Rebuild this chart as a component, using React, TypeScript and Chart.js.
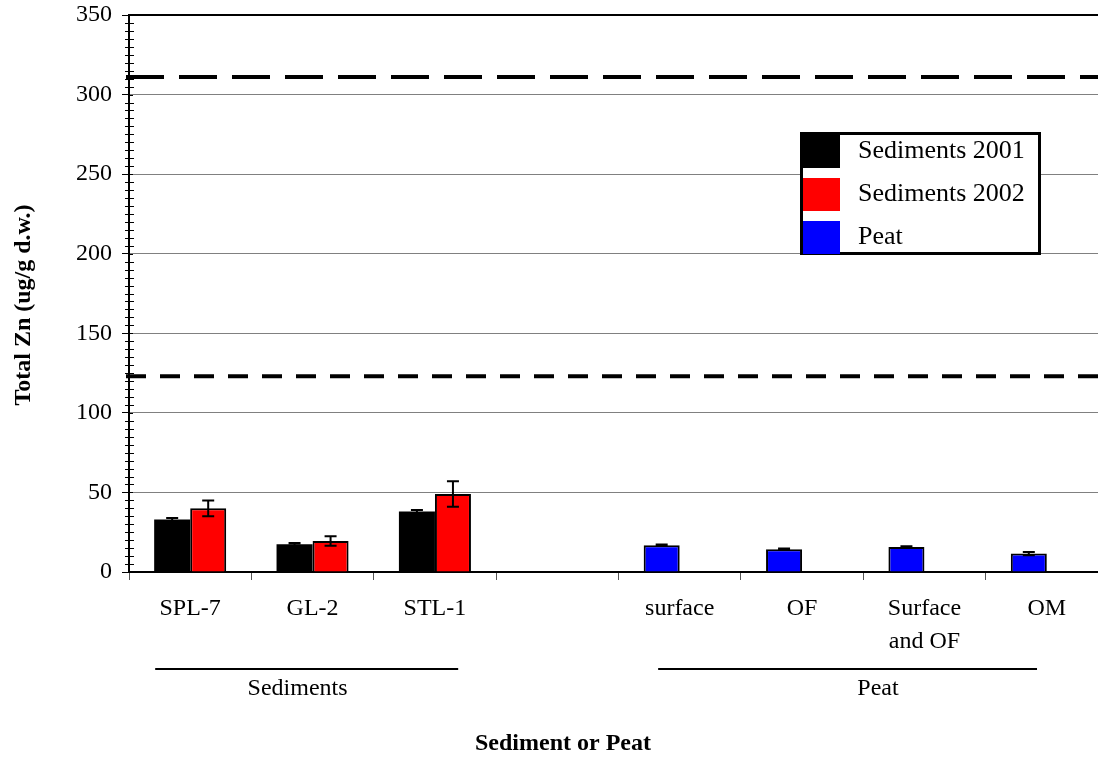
import React, { useEffect, useRef } from 'react';
import { Chart, registerables } from 'chart.js';

Chart.register(...registerables);

const categories: (string | string[])[] = ['SPL-7', 'GL-2', 'STL-1', '', 'surface', 'OF', ['Surface', 'and OF'], 'OM'];
const sediments2001: (number | null)[] = [33, 17.5, 38, null, null, null, null, null];
const sediments2001Err: (number | null)[] = [1, 0.8, 1, null, null, null, null, null];
const sediments2002: (number | null)[] = [40, 19.5, 49, null, null, null, null, null];
const sediments2002Err: (number | null)[] = [5, 3, 8, null, null, null, null, null];
const peat: (number | null)[] = [null, null, null, null, 16.8, 14.3, 15.7, 11.6];
const peatErr: (number | null)[] = [null, null, null, null, 0.5, 0.4, 0.5, 1];
const guidelineHigh = 311;
const guidelineLow = 123;
const yMin = 0;
const yMax = 350;
const yStep = 50;
const yMinorStep = 5;
const groupSediments = 'Sediments';
const groupPeat = 'Peat';
const xTitle = 'Sediment or Peat';
const yTitle = 'Total Zn (ug/g d.w.)';

const SERIF = '"Liberation Serif", "Times New Roman", serif';
const CANVAS_W = 1112;
const CANVAS_H = 757;

const errorsByDataset = [sediments2001Err, sediments2002Err, peatErr];

const decorPlugin = {
  id: 'decor',
  afterDatasetsDraw(chart: any) {
    const ctx = chart.ctx;
    const y = chart.scales.y;
    const area = chart.chartArea;
    // error bars
    ctx.save();
    ctx.strokeStyle = '#000';
    ctx.lineWidth = 2;
    chart.data.datasets.forEach((ds: any, di: number) => {
      const meta = chart.getDatasetMeta(di);
      const errs = errorsByDataset[di];
      meta.data.forEach((bar: any, i: number) => {
        const v = ds.data[i];
        const e = errs[i];
        if (v == null || e == null) return;
        const yt = y.getPixelForValue(v + e);
        const yb = y.getPixelForValue(v - e);
        const cx = bar.x;
        ctx.beginPath();
        ctx.moveTo(cx, yt);
        ctx.lineTo(cx, yb);
        ctx.moveTo(cx - 6, yt);
        ctx.lineTo(cx + 6, yt);
        ctx.moveTo(cx - 6, yb);
        ctx.lineTo(cx + 6, yb);
        ctx.stroke();
      });
    });
    ctx.restore();

    // guideline dashed lines
    ctx.save();
    ctx.strokeStyle = '#000';
    ctx.lineWidth = 4;
    ctx.setLineDash([38, 15]);
    let py = y.getPixelForValue(guidelineHigh);
    ctx.beginPath();
    ctx.moveTo(area.left - 3, py);
    ctx.lineTo(area.right, py);
    ctx.stroke();
    ctx.setLineDash([20, 14]);
    py = y.getPixelForValue(guidelineLow);
    ctx.beginPath();
    ctx.moveTo(area.left - 3, py);
    ctx.lineTo(area.right, py);
    ctx.stroke();
    ctx.restore();
  },
  afterDraw(chart: any) {
    const ctx = chart.ctx;
    const y = chart.scales.y;
    const x = chart.scales.x;
    const area = chart.chartArea;
    ctx.save();
    // top border
    ctx.strokeStyle = '#000';
    ctx.lineWidth = 2;
    ctx.beginPath();
    ctx.moveTo(area.left - 1, area.top);
    ctx.lineTo(area.right, area.top);
    ctx.stroke();
    // minor ticks
    ctx.lineWidth = 1;
    for (let v = yMin; v <= yMax; v += yMinorStep) {
      const p = Math.round(y.getPixelForValue(v)) + 0.5;
      ctx.beginPath();
      if (v % yStep === 0) {
        ctx.moveTo(area.left, p);
        ctx.lineTo(area.left + 4, p);
      } else {
        ctx.moveTo(area.left - 4, p);
        ctx.lineTo(area.left + 5, p);
      }
      ctx.stroke();
    }

    // group lines and labels
    const cw = x.getPixelForValue(1) - x.getPixelForValue(0);
    ctx.lineWidth = 2;
    ctx.beginPath();
    ctx.moveTo(x.getPixelForValue(0) - 0.286 * cw, 669);
    ctx.lineTo(x.getPixelForValue(2) + 0.19 * cw, 669);
    ctx.moveTo(x.getPixelForValue(4) - 0.176 * cw, 669);
    ctx.lineTo(x.getPixelForValue(7) - 0.08 * cw, 669);
    ctx.stroke();
    ctx.fillStyle = '#000';
    ctx.font = `24px ${SERIF}`;
    ctx.textAlign = 'center';
    ctx.textBaseline = 'alphabetic';
    ctx.fillText(groupSediments, x.getPixelForValue(1) - 15, 695);
    ctx.fillText(groupPeat, 878, 695);

    // axis titles
    ctx.font = `bold 24px ${SERIF}`;
    ctx.fillText(xTitle, 563, 750);
    ctx.save();
    ctx.translate(29.5, 305);
    ctx.rotate(-Math.PI / 2);
    ctx.fillText(yTitle, 0, 0);
    ctx.restore();

    // legend
    const lx = 801, ly = 133, lw = 238, lh = 120;
    ctx.fillStyle = '#fff';
    ctx.fillRect(lx, ly, lw, lh);
    ctx.lineWidth = 3;
    ctx.strokeStyle = '#000';
    ctx.strokeRect(lx + 0.5, ly + 0.5, lw, lh);
    ctx.font = `26px ${SERIF}`;
    ctx.textAlign = 'left';
    ctx.textBaseline = 'middle';
    chart.data.datasets.forEach((ds: any, i: number) => {
      const top = 135 + i * 43;
      ctx.fillStyle = ds.backgroundColor;
      ctx.fillRect(803, top, 37, 33);
      ctx.fillStyle = '#000';
      ctx.fillText(ds.label, 858, top + 16);
    });
    ctx.restore();
  },
};

export default function App() {
  const ref = useRef<HTMLCanvasElement | null>(null);
  useEffect(() => {
    if (!ref.current) return;
    const chart = new Chart(ref.current, {
      type: 'bar',
      data: {
        labels: categories as any,
        datasets: [
          { label: 'Sediments 2001', data: sediments2001, backgroundColor: '#000000', borderColor: '#000', borderWidth: 0, stack: 'a' },
          { label: 'Sediments 2002', data: sediments2002, backgroundColor: '#ff0000', borderColor: '#000', borderWidth: 2, stack: 'b' },
          { label: 'Peat', data: peat, backgroundColor: '#0000ff', borderColor: '#000', borderWidth: 2, stack: 'a' },
        ],
      },
      options: {
        responsive: false,
        animation: false,
        devicePixelRatio: 1,
        layout: { padding: { top: 15, right: 4, left: 0, bottom: 0 } },
        datasets: { bar: { barPercentage: 1, categoryPercentage: 72 / 122.3 } },
        plugins: { legend: { display: false }, tooltip: { enabled: false }, title: { display: false } },
        scales: {
          x: {
            stacked: true,
            grid: { drawOnChartArea: false, drawTicks: true, tickLength: 8, offset: true, color: '#555', lineWidth: 1 },
            border: { color: '#000', width: 2 },
            ticks: { color: '#000', font: { family: SERIF, size: 24, lineHeight: 1.38 }, padding: 12, maxRotation: 0, autoSkip: false },
            afterFit: (s: any) => { s.height = CANVAS_H - 572; s.paddingLeft = 0; s.paddingRight = 0; },
          },
          y: {
            stacked: true,
            min: yMin,
            max: yMax,
            grid: {
              color: (c: any) => (c.tick && (c.tick.value === yMin || c.tick.value === yMax) ? 'rgba(0,0,0,0)' : '#808080'),
              tickColor: '#000',
              tickLength: 7,
              tickWidth: 1,
              lineWidth: 1,
            },
            border: { color: '#000', width: 2 },
            ticks: { stepSize: yStep, color: '#000', font: { family: SERIF, size: 24 }, padding: 10 },
            afterFit: (s: any) => { s.width = 129; s.paddingTop = 0; s.paddingBottom = 0; },
          },
        },
      },
      plugins: [decorPlugin],
    } as any);
    return () => chart.destroy();
  }, []);
  return (
    <div style={{ position: 'fixed', left: 0, top: 0, width: 1098, height: 757, overflow: 'hidden', background: '#fff' }}>
      <canvas ref={ref} width={CANVAS_W} height={CANVAS_H} style={{ width: CANVAS_W, height: CANVAS_H, display: 'block' }} />
    </div>
  );
}
